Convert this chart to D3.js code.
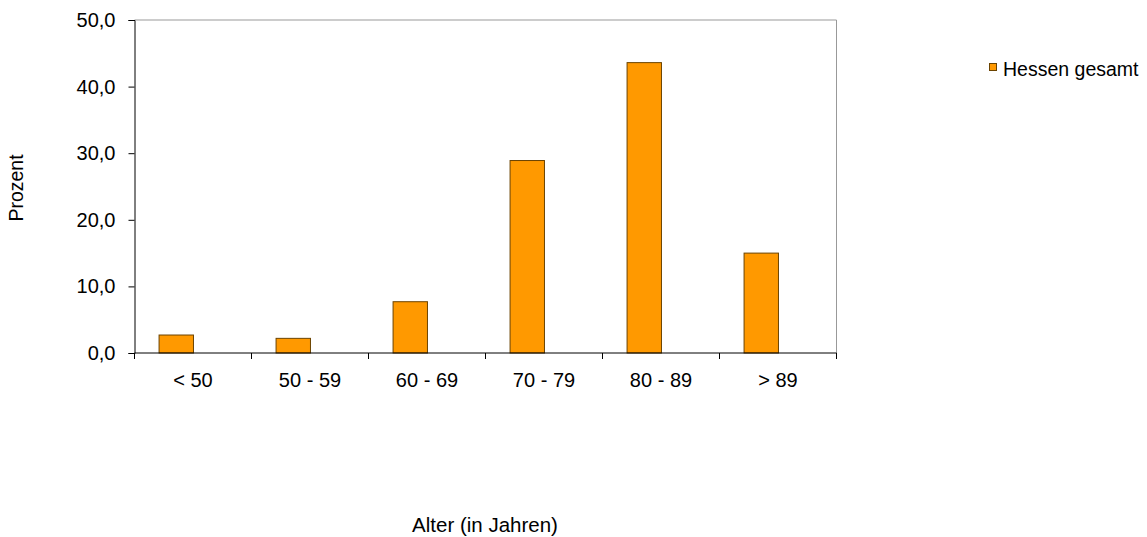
<!DOCTYPE html>
<html>
<head>
<meta charset="utf-8">
<script src="https://cdn.jsdelivr.net/npm/d3@7"></script>
<style>
  body { margin: 0; background: white; }
  svg text { font-family: "Liberation Sans", Arial, sans-serif; fill: #000; }
</style>
</head>
<body>
<div id="chart"></div>
<script>
let categories = ["< 50", "50 - 59", "60 - 69", "70 - 79", "80 - 89", "> 89"];
let values = [2.7, 2.2, 7.7, 28.9, 43.6, 15.0];
let yTicks = [0, 10, 20, 30, 40, 50];
let seriesName = "Hessen gesamt";

let width = 1147;
let height = 537;
let plotLeft = 134.5, plotRight = 836.5, plotTop = 20, plotBottom = 353;

let svg = d3.select("#chart").append("svg")
	.attr("width", width)
	.attr("height", height);

svg.append("rect")
	.attr("width", width)
	.attr("height", height)
	.attr("fill", "white");

let xScale = d3.scaleBand()
	.domain(categories)
	.range([plotLeft, plotRight]);

let yScale = d3.scaleLinear()
	.domain([0, 50])
	.range([plotBottom, plotTop]);

let fmt = d => d.toFixed(1).replace(".", ",");

// plot frame (top and right in gray)
svg.append("path")
	.attr("d", `M${plotLeft},${plotTop}H${plotRight}V${plotBottom}`)
	.attr("fill", "none")
	.attr("stroke", "#999")
	.attr("stroke-width", 1);

// bars: excel-style clustered, second (empty) series leaves a gap on the right
let bw = xScale.bandwidth();
let barW = bw * 0.294;
let offset = bw * 0.21;

svg.selectAll("rect.bar")
	.data(values)
	.enter()
	.append("rect")
	.attr("class", "bar")
	.attr("x", (d, i) => xScale(categories[i]) + offset)
	.attr("y", d => yScale(d))
	.attr("width", barW)
	.attr("height", d => plotBottom - yScale(d))
	.attr("fill", "#FF9900")
	.attr("stroke", "#6b4300")
	.attr("stroke-width", 1);

// y axis
let yAxis = d3.axisLeft(yScale)
	.tickValues(yTicks)
	.tickFormat(fmt)
	.tickSize(6)
	.tickPadding(13);

let gy = svg.append("g")
	.attr("transform", `translate(${plotLeft},0)`)
	.call(yAxis);
gy.select(".domain").attr("stroke", "#000");
gy.selectAll(".tick line").attr("stroke", "#000");
gy.selectAll(".tick text")
	.attr("font-size", "20px")
	.style("font-family", "Liberation Sans, Arial, sans-serif");

// x axis: ticks at band boundaries
let gx = svg.append("g")
	.attr("transform", `translate(0,${plotBottom})`);
gx.append("line")
	.attr("x1", plotLeft).attr("x2", plotRight)
	.attr("stroke", "#000");
let bounds = categories.map(c => xScale(c)).concat([plotRight]);
gx.selectAll("line.tick")
	.data(bounds)
	.enter()
	.append("line")
	.attr("class", "tick")
	.attr("x1", d => d).attr("x2", d => d)
	.attr("y1", 0).attr("y2", 6)
	.attr("stroke", "#000");
gx.selectAll("text")
	.data(categories)
	.enter()
	.append("text")
	.attr("x", d => xScale(d) + bw / 2)
	.attr("y", 33.5)
	.attr("text-anchor", "middle")
	.attr("font-size", "20px")
	.text(d => d);

// axis titles
svg.append("text")
	.text("Prozent")
	.attr("font-size", "19.5px")
	.attr("text-anchor", "middle")
	.attr("transform", "translate(23,188) rotate(-90)");

svg.append("text")
	.text("Alter (in Jahren)")
	.attr("font-size", "20.5px")
	.attr("text-anchor", "middle")
	.attr("x", 485)
	.attr("y", 531.5);

// legend
svg.append("rect")
	.attr("x", 989.5).attr("y", 63.5)
	.attr("width", 7).attr("height", 7)
	.attr("fill", "#FF9900")
	.attr("stroke", "#6b4300")
	.attr("stroke-width", 1);
svg.append("text")
	.text(seriesName)
	.attr("x", 1003)
	.attr("y", 75.5)
	.attr("font-size", "19.5px");
</script>
</body>
</html>
